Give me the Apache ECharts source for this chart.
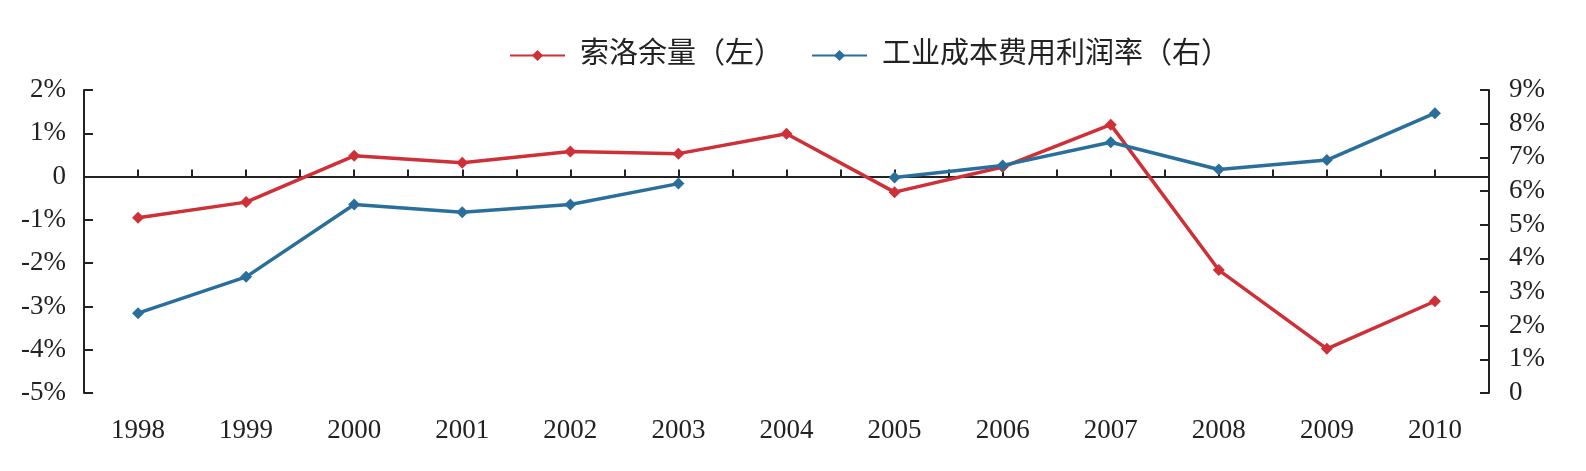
<!DOCTYPE html>
<html>
<head>
<meta charset="utf-8">
<script src="https://cdn.jsdelivr.net/npm/echarts@6/dist/echarts.min.js"></script>
<style>
  html, body { margin: 0; padding: 0; background: #fff; }
  #main { width: 1586px; height: 471px; }
</style>
</head>
<body>
<div id="main"></div>
<script>
const years = ["1998", "1999", "2000", "2001", "2002", "2003", "2004", "2005", "2006", "2007", "2008", "2009", "2010"];
// 索洛余量, left axis (%)
const solowResidual = [-0.95, -0.59, 0.48, 0.32, 0.58, 0.53, 0.99, -0.36, 0.22, 1.2, -2.16, -3.98, -2.88];
// 工业成本费用利润率, right axis (%), no value for 2004
const profitRate = [2.37, 3.45, 5.6, 5.37, 5.6, 6.22, null, 6.4, 6.76, 7.45, 6.64, 6.92, 8.31];

const serif = "'Liberation Serif', 'Noto Sans CJK SC', serif";
const red = "#cf2f37";
const blue = "#2a6f9c";

const myChart = echarts.init(document.getElementById("main"));

const pct = (v) => (v === 0 ? "0" : v + "%");

myChart.setOption({
  animation: false,
  backgroundColor: "#fff",
  textStyle: { fontFamily: serif },
  legend: {
    left: 504,
    top: 36,
    itemWidth: 55,
    itemHeight: 14,
    itemGap: 28,
    textStyle: { fontSize: 29, color: "#222", fontFamily: serif, padding: [0, 0, 0, 10] },
    data: ["索洛余量（左）", "工业成本费用利润率（右）"],
  },
  grid: {
    left: 84,
    right: 97,
    top: 90,
    bottom: 78,
    containLabel: false,
    outerBoundsMode: "none",
  },
  xAxis: [
    {
      type: "category",
      data: years,
      position: "bottom",
      boundaryGap: true,
      axisLine: { show: false, onZero: false },
      axisTick: { show: false },
      axisLabel: { fontSize: 27, color: "#222", margin: 24, fontFamily: serif },
    },
    {
      // zero line with small ticks every half category
      type: "value",
      min: 0,
      max: 26,
      interval: 1,
      position: "bottom",
      axisLine: { show: true, onZero: true, lineStyle: { color: "#222", width: 2 } },
      axisTick: { show: true, inside: true, length: 7, lineStyle: { color: "#222", width: 2 } },
      axisLabel: { show: false },
      splitLine: { show: false },
    },
  ],
  yAxis: [
    {
      type: "value",
      min: -5,
      max: 2,
      interval: 1,
      axisLine: { show: true, lineStyle: { color: "#222", width: 2 } },
      axisTick: { show: true, inside: true, length: 9, lineStyle: { color: "#222", width: 2 } },
      axisLabel: { formatter: pct, fontSize: 27, color: "#222", margin: 18, fontFamily: serif },
      splitLine: { show: false },
    },
    {
      type: "value",
      min: 0,
      max: 9,
      interval: 1,
      position: "right",
      axisLine: { show: true, lineStyle: { color: "#222", width: 2 } },
      axisTick: { show: true, inside: true, length: 9, lineStyle: { color: "#222", width: 2 } },
      axisLabel: { formatter: pct, fontSize: 27, color: "#222", margin: 20, fontFamily: serif },
      splitLine: { show: false },
    },
  ],
  series: [
    {
      name: "索洛余量（左）",
      type: "line",
      xAxisIndex: 0,
      yAxisIndex: 0,
      data: solowResidual,
      symbol: "diamond",
      symbolSize: 12,
      color: red,
      lineStyle: { width: 3.5, color: red },
      itemStyle: { color: red },
    },
    {
      name: "工业成本费用利润率（右）",
      type: "line",
      xAxisIndex: 0,
      yAxisIndex: 1,
      data: profitRate,
      connectNulls: false,
      symbol: "diamond",
      symbolSize: 12,
      color: blue,
      lineStyle: { width: 3.5, color: blue },
      itemStyle: { color: blue },
    },
  ],
});
</script>
</body>
</html>
